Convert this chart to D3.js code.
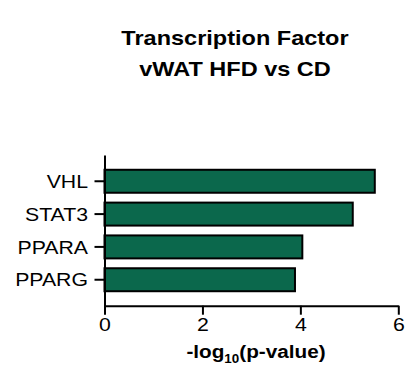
<!DOCTYPE html>
<html>
<head>
<meta charset="utf-8">
<script src="https://cdn.jsdelivr.net/npm/d3@7"></script>
<style>
  body { margin: 0; background: #fff; }
  text { font-family: "Liberation Sans", Arial, sans-serif; fill: #000; }
</style>
</head>
<body>
<div id="container"></div>
<script>
const WIDTH = 405,
  HEIGHT = 366,
  STRETCH = 1.12; // text in the source looks a bit wide

// Data
const factors = ["VHL", "STAT3", "PPARA", "PPARG"];
const logP = [5.52, 5.07, 4.04, 3.89];
const xTicks = [0, 2, 4, 6];
const titleLines = ["Transcription Factor", "vWAT HFD vs CD"];

const svg = d3.select("#container")
  .append("svg")
  .attr("width", WIDTH)
  .attr("height", HEIGHT)

// Scales
const xScale = d3.scaleLinear()
  .domain([0, 6])
  .range([104.5, 398.3])

const yScale = d3.scaleBand()
  .domain(factors)
  .range([155, 306])
  .paddingInner(0.3)
  .paddingOuter(0.45)

// Title
svg.selectAll(".title")
  .data(titleLines)
  .join("text")
  .attr("class", "title")
  .attr("transform", (d, i) => `translate(235, ${45 + i * 30.5}) scale(${STRETCH},1)`)
  .attr("text-anchor", "middle")
  .style("font-size", "21px")
  .style("font-weight", "bold")
  .text(d => d)

// Bars
svg.selectAll(".bar")
  .data(factors)
  .join("rect")
  .attr("class", "bar")
  .attr("x", xScale(0))
  .attr("y", d => yScale(d))
  .attr("width", (d, i) => xScale(logP[i]) - xScale(0))
  .attr("height", yScale.bandwidth())
  .style("fill", "#0b684c")
  .style("stroke", "#000")
  .style("stroke-width", 2)

// Axes
const xAxis = svg.append("g")
  .attr("class", "x-axis")
  .attr("transform", `translate(0, ${305.7})`)
  .call(d3.axisBottom(xScale).tickValues(xTicks).tickFormat(d3.format("d"))
    .tickSize(9).tickSizeOuter(0).tickPadding(3))

const yAxis = svg.append("g")
  .attr("class", "y-axis")
  .attr("transform", `translate(${xScale(0)}, 0)`)
  .call(d3.axisLeft(yScale).tickSize(10).tickSizeOuter(0))

svg.selectAll(".x-axis path, .y-axis path, .x-axis line, .y-axis line")
  .style("stroke", "#000")
  .style("stroke-width", 2)

svg.selectAll(".x-axis, .y-axis").attr("font-family", null).attr("font-size", null)

xAxis.selectAll("text")
  .style("font-size", "19px")
  .attr("transform", `scale(${STRETCH},1)`)
  .attr("x", 0)

yAxis.selectAll("text")
  .style("font-size", "19px")
  .attr("x", null)
  .attr("dy", "0.35em")
  .attr("transform", `translate(-16.5, 0) scale(${STRETCH},1)`)

// Axis title
const xTitle = svg.append("text")
  .attr("transform", `translate(256, 357.5) scale(${STRETCH},1)`)
  .attr("text-anchor", "middle")
  .style("font-size", "18.5px")
  .style("font-weight", "bold")

xTitle.append("tspan").text("-log")
xTitle.append("tspan").attr("dy", 5).style("font-size", "12px").text("10")
xTitle.append("tspan").attr("dy", -5).text("(p-value)")
</script>
</body>
</html>
